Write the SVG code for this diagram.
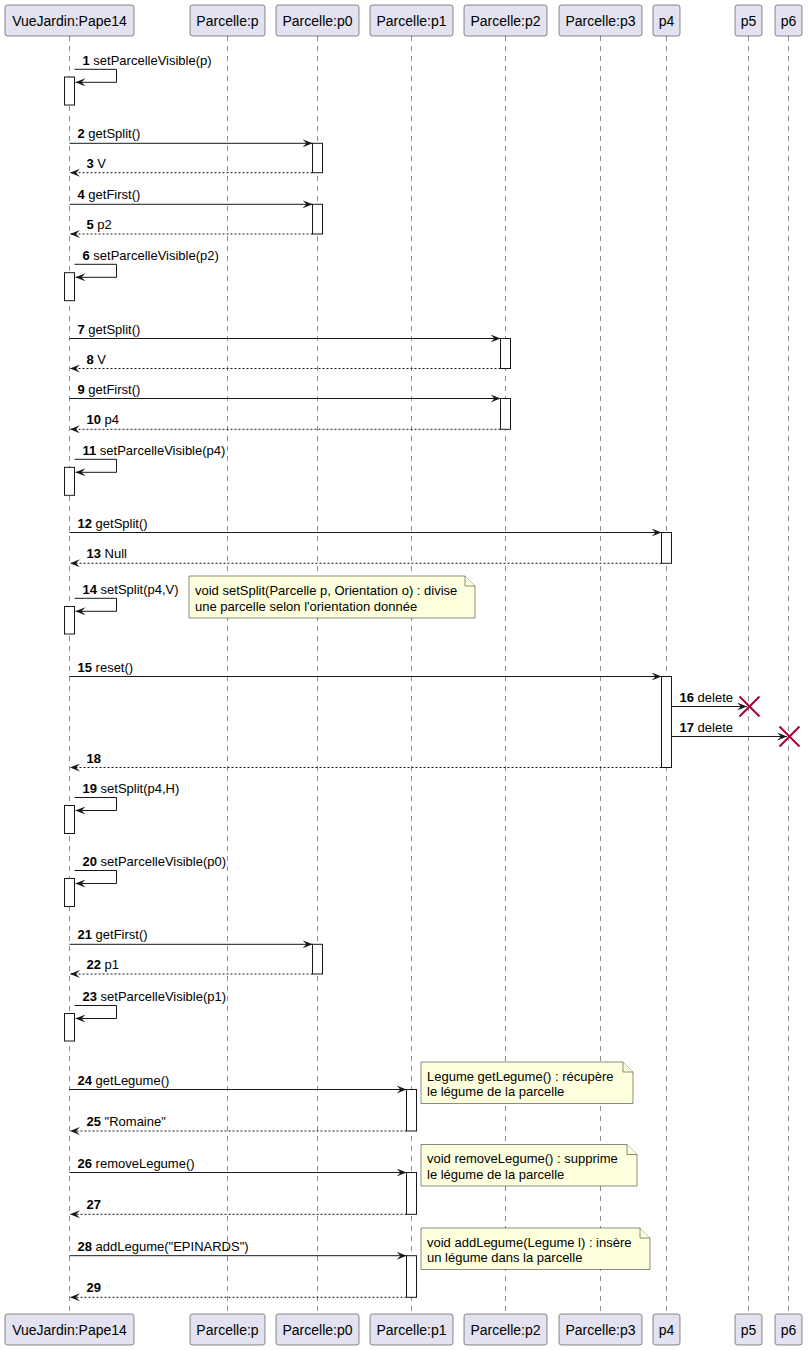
<svg xmlns="http://www.w3.org/2000/svg" width="809" height="1350" viewBox="0 0 809 1350">
<style>
.part rect{fill:#E2E2F0;stroke:#181818;stroke-width:0.5}
.part text{font-family:"Liberation Sans",Arial,sans-serif;font-size:14px;fill:#000;text-anchor:middle}
.life{stroke:#181818;stroke-width:0.5;stroke-dasharray:5,5;fill:none}
.act{fill:#FFFFFF;stroke:#181818;stroke-width:1}
.msg{stroke:#181818;stroke-width:1;fill:none;marker-end:url(#ah)}
.ret{stroke:#181818;stroke-width:1;fill:none;stroke-dasharray:2,2;marker-end:url(#ah)}
.lbl{font-family:"Liberation Sans",Arial,sans-serif;font-size:13px;fill:#000}
.num{font-weight:bold}
.note path{fill:#FEFFDD;stroke:#181818;stroke-width:0.5}
.note text{font-family:"Liberation Sans",Arial,sans-serif;font-size:13px;fill:#000}
.del{stroke:#A80036;stroke-width:2}
</style>
<defs>
<marker id="ah" markerUnits="userSpaceOnUse" markerWidth="10" markerHeight="8" refX="10" refY="4" orient="auto">
<path d="M0,0 L10,4 L0,8 L4,4 Z" fill="#181818"/>
</marker>
</defs>

<g id="lifelines">
<line class="life" x1="69.5" y1="36" x2="69.5" y2="1314"/>
<line class="life" x1="227.5" y1="36" x2="227.5" y2="1314"/>
<line class="life" x1="317.5" y1="36" x2="317.5" y2="1314"/>
<line class="life" x1="411.5" y1="36" x2="411.5" y2="1314"/>
<line class="life" x1="505.5" y1="36" x2="505.5" y2="1314"/>
<line class="life" x1="600.5" y1="36" x2="600.5" y2="1314"/>
<line class="life" x1="666.5" y1="36" x2="666.5" y2="1314"/>
<line class="life" x1="748.5" y1="36" x2="748.5" y2="1314"/>
<line class="life" x1="788.5" y1="36" x2="788.5" y2="1314"/>
</g>

<g id="VueJardin" class="part">
<rect x="5" y="5" width="129" height="31" rx="2.5"/><text x="69.5" y="25.5">VueJardin:Pape14</text>
<rect x="5" y="1314" width="129" height="31" rx="2.5"/><text x="69.5" y="1334.5">VueJardin:Pape14</text>
</g>
<g id="Parcelle_p" class="part">
<rect x="190" y="5" width="75" height="31" rx="2.5"/><text x="227.5" y="25.5">Parcelle:p</text>
<rect x="190" y="1314" width="75" height="31" rx="2.5"/><text x="227.5" y="1334.5">Parcelle:p</text>
</g>
<g id="Parcelle_p0" class="part">
<rect x="276" y="5" width="83" height="31" rx="2.5"/><text x="317.5" y="25.5">Parcelle:p0</text>
<rect x="276" y="1314" width="83" height="31" rx="2.5"/><text x="317.5" y="1334.5">Parcelle:p0</text>
</g>
<g id="Parcelle_p1" class="part">
<rect x="370" y="5" width="83" height="31" rx="2.5"/><text x="411.5" y="25.5">Parcelle:p1</text>
<rect x="370" y="1314" width="83" height="31" rx="2.5"/><text x="411.5" y="1334.5">Parcelle:p1</text>
</g>
<g id="Parcelle_p2" class="part">
<rect x="464" y="5" width="83" height="31" rx="2.5"/><text x="505.5" y="25.5">Parcelle:p2</text>
<rect x="464" y="1314" width="83" height="31" rx="2.5"/><text x="505.5" y="1334.5">Parcelle:p2</text>
</g>
<g id="Parcelle_p3" class="part">
<rect x="559" y="5" width="83" height="31" rx="2.5"/><text x="600.5" y="25.5">Parcelle:p3</text>
<rect x="559" y="1314" width="83" height="31" rx="2.5"/><text x="600.5" y="1334.5">Parcelle:p3</text>
</g>
<g id="p4" class="part">
<rect x="653" y="5" width="27" height="31" rx="2.5"/><text x="666.5" y="25.5">p4</text>
<rect x="653" y="1314" width="27" height="31" rx="2.5"/><text x="666.5" y="1334.5">p4</text>
</g>
<g id="p5" class="part">
<rect x="735" y="5" width="27" height="31" rx="2.5"/><text x="748.5" y="25.5">p5</text>
<rect x="735" y="1314" width="27" height="31" rx="2.5"/><text x="748.5" y="1334.5">p5</text>
</g>
<g id="p6" class="part">
<rect x="775" y="5" width="27" height="31" rx="2.5"/><text x="788.5" y="25.5">p6</text>
<rect x="775" y="1314" width="27" height="31" rx="2.5"/><text x="788.5" y="1334.5">p6</text>
</g>

<g id="activations">
<rect class="act" x="64.5" y="77" width="10" height="28"/>
<rect class="act" x="312.5" y="143.3" width="10" height="29.4"/>
<rect class="act" x="312.5" y="204.3" width="10" height="29.7"/>
<rect class="act" x="64.5" y="272.7" width="10" height="28"/>
<rect class="act" x="500.5" y="338.5" width="10" height="30"/>
<rect class="act" x="500.5" y="398.5" width="10" height="30.8"/>
<rect class="act" x="64.5" y="467.3" width="10" height="28"/>
<rect class="act" x="661.5" y="532.5" width="10" height="30.8"/>
<rect class="act" x="64.5" y="606.5" width="10" height="27.5"/>
<rect class="act" x="661.5" y="676.5" width="10" height="91"/>
<rect class="act" x="64.5" y="805.5" width="10" height="28"/>
<rect class="act" x="64.5" y="878.5" width="10" height="28"/>
<rect class="act" x="312.5" y="944.3" width="10" height="29.7"/>
<rect class="act" x="64.5" y="1013.5" width="10" height="27.5"/>
<rect class="act" x="406.5" y="1089.5" width="10" height="41.5"/>
<rect class="act" x="406.5" y="1172.5" width="10" height="41.8"/>
<rect class="act" x="406.5" y="1255.7" width="10" height="41.6"/>
</g>

<g id="connectors">
<polyline class="msg" points="74.5,69.3 116.5,69.3 116.5,82.3 75.5,82.3"/>
<text class="lbl" x="82.5" y="64.8"><tspan class="num">1</tspan> setParcelleVisible(p)</text>

<line class="msg" x1="69.5" y1="143.3" x2="312.5" y2="143.3"/>
<text class="lbl" x="77.5" y="138.3"><tspan class="num">2</tspan> getSplit()</text>
<line class="ret" x1="312.5" y1="172.7" x2="70" y2="172.7"/>
<text class="lbl" x="86.5" y="167.7"><tspan class="num">3</tspan> V</text>

<line class="msg" x1="69.5" y1="204.3" x2="312.5" y2="204.3"/>
<text class="lbl" x="77.5" y="199.3"><tspan class="num">4</tspan> getFirst()</text>
<line class="ret" x1="312.5" y1="234" x2="70" y2="234"/>
<text class="lbl" x="86.5" y="229"><tspan class="num">5</tspan> p2</text>

<polyline class="msg" points="74.5,264.3 116.5,264.3 116.5,277.3 75.5,277.3"/>
<text class="lbl" x="82.5" y="259.8"><tspan class="num">6</tspan> setParcelleVisible(p2)</text>

<line class="msg" x1="69.5" y1="338.5" x2="500.5" y2="338.5"/>
<text class="lbl" x="77.5" y="333.5"><tspan class="num">7</tspan> getSplit()</text>
<line class="ret" x1="500.5" y1="368.5" x2="70" y2="368.5"/>
<text class="lbl" x="86.5" y="363.5"><tspan class="num">8</tspan> V</text>

<line class="msg" x1="69.5" y1="398.5" x2="500.5" y2="398.5"/>
<text class="lbl" x="77.5" y="393.5"><tspan class="num">9</tspan> getFirst()</text>
<line class="ret" x1="500.5" y1="429.3" x2="70" y2="429.3"/>
<text class="lbl" x="86.5" y="424.3"><tspan class="num">10</tspan> p4</text>

<polyline class="msg" points="74.5,459.3 116.5,459.3 116.5,472.3 75.5,472.3"/>
<text class="lbl" x="82.5" y="454.8"><tspan class="num">11</tspan> setParcelleVisible(p4)</text>

<line class="msg" x1="69.5" y1="532.5" x2="661.5" y2="532.5"/>
<text class="lbl" x="77.5" y="527.5"><tspan class="num">12</tspan> getSplit()</text>
<line class="ret" x1="661.5" y1="563.3" x2="70" y2="563.3"/>
<text class="lbl" x="86.5" y="558.3"><tspan class="num">13</tspan> Null</text>

<polyline class="msg" points="74.5,598.3 116.5,598.3 116.5,611.3 75.5,611.3"/>
<text class="lbl" x="82.5" y="593.8"><tspan class="num">14</tspan> setSplit(p4,V)</text>

<line class="msg" x1="69.5" y1="676.5" x2="661.5" y2="676.5"/>
<text class="lbl" x="77.5" y="671.5"><tspan class="num">15</tspan> reset()</text>

<line class="msg" x1="671.5" y1="706.5" x2="747" y2="706.5"/>
<text class="lbl" x="679.5" y="701.5"><tspan class="num">16</tspan> delete</text>
<line class="msg" x1="671.5" y1="736.5" x2="787" y2="736.5"/>
<text class="lbl" x="679.5" y="731.5"><tspan class="num">17</tspan> delete</text>

<line class="ret" x1="661.5" y1="767.5" x2="70" y2="767.5"/>
<text class="lbl" x="86.5" y="762.5"><tspan class="num">18</tspan></text>

<polyline class="msg" points="74.5,797.5 116.5,797.5 116.5,810.5 75.5,810.5"/>
<text class="lbl" x="82.5" y="793"><tspan class="num">19</tspan> setSplit(p4,H)</text>

<polyline class="msg" points="74.5,870.5 116.5,870.5 116.5,883.5 75.5,883.5"/>
<text class="lbl" x="82.5" y="866"><tspan class="num">20</tspan> setParcelleVisible(p0)</text>

<line class="msg" x1="69.5" y1="944.3" x2="312.5" y2="944.3"/>
<text class="lbl" x="77.5" y="939.3"><tspan class="num">21</tspan> getFirst()</text>
<line class="ret" x1="312.5" y1="974" x2="70" y2="974"/>
<text class="lbl" x="86.5" y="969"><tspan class="num">22</tspan> p1</text>

<polyline class="msg" points="74.5,1005.5 116.5,1005.5 116.5,1018.5 75.5,1018.5"/>
<text class="lbl" x="82.5" y="1001"><tspan class="num">23</tspan> setParcelleVisible(p1)</text>

<line class="msg" x1="69.5" y1="1089.5" x2="406.5" y2="1089.5"/>
<text class="lbl" x="77.5" y="1084.5"><tspan class="num">24</tspan> getLegume()</text>
<line class="ret" x1="406.5" y1="1131" x2="70" y2="1131"/>
<text class="lbl" x="86.5" y="1126"><tspan class="num">25</tspan> "Romaine"</text>

<line class="msg" x1="69.5" y1="1172.5" x2="406.5" y2="1172.5"/>
<text class="lbl" x="77.5" y="1167.5"><tspan class="num">26</tspan> removeLegume()</text>
<line class="ret" x1="406.5" y1="1214.3" x2="70" y2="1214.3"/>
<text class="lbl" x="86.5" y="1209.3"><tspan class="num">27</tspan></text>

<line class="msg" x1="69.5" y1="1255.7" x2="406.5" y2="1255.7"/>
<text class="lbl" x="77.5" y="1250.7"><tspan class="num">28</tspan> addLegume("EPINARDS")</text>
<line class="ret" x1="406.5" y1="1297.3" x2="70" y2="1297.3"/>
<text class="lbl" x="86.5" y="1292.3"><tspan class="num">29</tspan></text>
</g>

<g id="destroy_p5">
<line class="del" x1="739.5" y1="696.5" x2="759.5" y2="716.5"/>
<line class="del" x1="739.5" y1="716.5" x2="759.5" y2="696.5"/>
</g>
<g id="destroy_p6">
<line class="del" x1="779.5" y1="726.5" x2="799.5" y2="746.5"/>
<line class="del" x1="779.5" y1="746.5" x2="799.5" y2="726.5"/>
</g>

<g id="note_setSplit" class="note">
<path d="M189,576 L465,576 L475,586 L475,618 L189,618 Z"/>
<path d="M465,576 L465,586 L475,586"/>
<text x="195" y="595">void setSplit(Parcelle p, Orientation o) : divise</text>
<text x="195" y="610.5">une parcelle selon l'orientation donnée</text>
</g>
<g id="note_getLegume" class="note">
<path d="M421,1062 L623,1062 L633,1072 L633,1103.5 L421,1103.5 Z"/>
<path d="M623,1062 L623,1072 L633,1072"/>
<text x="427" y="1080.5">Legume getLegume() : récupère</text>
<text x="427" y="1096">le légume de la parcelle</text>
</g>
<g id="note_removeLegume" class="note">
<path d="M421,1144.5 L627,1144.5 L637,1154.5 L637,1186 L421,1186 Z"/>
<path d="M627,1144.5 L627,1154.5 L637,1154.5"/>
<text x="427" y="1163">void removeLegume() : supprime</text>
<text x="427" y="1178.5">le légume de la parcelle</text>
</g>
<g id="note_addLegume" class="note">
<path d="M421,1228 L640,1228 L650,1238 L650,1269.5 L421,1269.5 Z"/>
<path d="M640,1228 L640,1238 L650,1238"/>
<text x="427" y="1246.5">void addLegume(Legume l) : insère</text>
<text x="427" y="1262">un légume dans la parcelle</text>
</g>
</svg>
